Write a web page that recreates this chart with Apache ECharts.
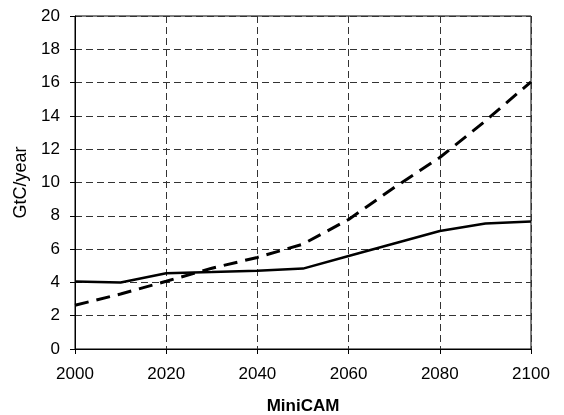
<!DOCTYPE html>
<html>
<head>
<meta charset="utf-8">
<script src="https://cdn.jsdelivr.net/npm/echarts@6/dist/echarts.min.js"></script>
<style>html,body{margin:0;padding:0;background:#fff}#c{width:564px;height:415px}</style>
</head>
<body>
<div id="c"></div>
<script>
var years = [2000, 2010, 2020, 2030, 2040, 2050, 2060, 2070, 2080, 2090, 2100];
var solidSeries = [4.05, 4.0, 4.55, 4.62, 4.7, 4.83, 5.59, 6.34, 7.09, 7.54, 7.66];
var dashedSeries = [2.63, 3.3, 4.07, 4.85, 5.5, 6.3, 7.78, 9.7, 11.5, 13.7, 16.05];
var xTicks = [2000, 2020, 2040, 2060, 2080, 2100];
var yTicks = [0, 2, 4, 6, 8, 10, 12, 14, 16, 18, 20];

function pairs(vals) { return years.map(function (y, i) { return [y, vals[i]]; }); }

var font = 'Liberation Sans, Arial, sans-serif';
var chart = echarts.init(document.getElementById('c'), null, { renderer: 'canvas' });
chart.setOption({
  animation: false,
  backgroundColor: '#fff',
  grid: { left: 75, right: 33, top: 16, bottom: 66, containLabel: false, outerBoundsMode: 'none',
    show: true, borderColor: '#000', borderWidth: 1, backgroundColor: 'transparent' },
  xAxis: {
    type: 'value', min: 2000, max: 2100, interval: 20,
    name: 'MiniCAM', nameLocation: 'middle', nameGap: 49,
    nameTextStyle: { fontFamily: font, fontSize: 17, fontWeight: 'bold', color: '#000' },
    axisLine: { show: true, lineStyle: { color: '#000', width: 1 } },
    axisTick: { show: true, length: 5, lineStyle: { color: '#000' } },
    axisLabel: { margin: 17, fontFamily: font, fontSize: 17, color: '#000',
      formatter: function (v) { return xTicks.indexOf(v) >= 0 ? String(v) : ''; } },
    splitLine: { show: true, lineStyle: { color: '#333', type: [7, 4], width: 1 } }
  },
  yAxis: {
    type: 'value', min: 0, max: 20, interval: 2,
    name: 'GtC/year', nameLocation: 'middle', nameGap: 44, nameRotate: 90,
    nameTextStyle: { fontFamily: font, fontSize: 18, color: '#000' },
    axisLine: { show: true, lineStyle: { color: '#000', width: 1 } },
    axisTick: { show: true, length: 5, lineStyle: { color: '#000' } },
    axisLabel: { margin: 15, fontFamily: font, fontSize: 17, color: '#000',
      formatter: function (v) { return yTicks.indexOf(v) >= 0 ? String(v) : ''; } },
    splitLine: { show: true, lineStyle: { color: '#333', type: [7, 4], width: 1 } }
  },
  series: [
    { type: 'line', data: pairs(solidSeries), symbol: 'none', lineStyle: { color: '#000', width: 2.5 } },
    { type: 'line', data: pairs(dashedSeries), symbol: 'none', lineStyle: { color: '#000', width: 3, type: [14, 8] } }
  ]
});
</script>
</body>
</html>
